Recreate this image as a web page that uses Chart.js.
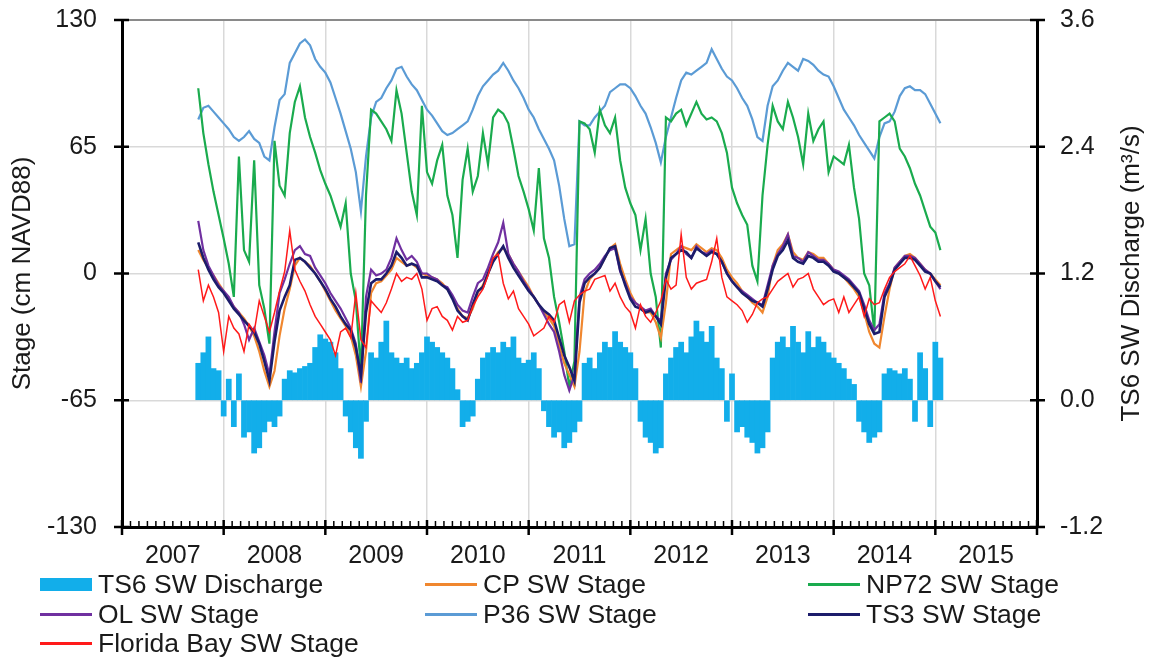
<!DOCTYPE html>
<html>
<head>
<meta charset="utf-8">
<script src="https://cdn.jsdelivr.net/npm/chart.js@4.4.1/dist/chart.umd.min.js"></script>
<style>
  html, body { margin: 0; padding: 0; background: #fff; }
  #wrap { position: relative; width: 1158px; height: 660px; }
  #legend { position: absolute; left: 0; top: 0; width: 1158px; height: 660px; pointer-events: none;
            font-family: 'Liberation Sans', Arial, sans-serif; font-size: 26.5px; color: #1a1a1a; }
  .item { position: absolute; height: 30px; display: flex; align-items: center; white-space: nowrap; }
  .swatch { display: inline-block; width: 52px; margin-right: 6px; }
</style>
</head>
<body>
<div id="wrap">
  <canvas id="chart" width="1158" height="660"></canvas>
  <div id="legend"></div>
</div>
<script>
// sampled every 0.05 yr starting at 2007.75 (20 values per year on each line)
const START = 2007.75;
const STEP = 0.05;

// TS6 discharge, m3/s (right axis)
const ts6Discharge = [
  0.35, 0.45, 0.60, 0.30, 0.28, -0.15, 0.20, -0.25, 0.25, -0.35, -0.30, -0.50, -0.45, -0.30, -0.20, -0.25, -0.15, 0.20, 0.28, 0.26,
  0.30, 0.32, 0.35, 0.50, 0.62, 0.58, 0.55, 0.45, 0.30, -0.15, -0.30, -0.45, -0.55, -0.20, 0.45, 0.40, 0.55, 0.75, 0.45, 0.40,
  0.35, 0.40, 0.30, 0.35, 0.45, 0.60, 0.55, 0.50, 0.45, 0.40, 0.30, 0.10, -0.25, -0.20, -0.15, 0.20, 0.40, 0.45, 0.50, 0.45,
  0.55, 0.50, 0.60, 0.40, 0.35, 0.38, 0.45, 0.30, -0.10, -0.25, -0.35, -0.30, -0.45, -0.40, -0.30, -0.20, 0.35, 0.40, 0.30, 0.45,
  0.55, 0.50, 0.65, 0.55, 0.50, 0.45, 0.30, -0.20, -0.35, -0.40, -0.50, -0.45, 0.25, 0.40, 0.50, 0.55, 0.45, 0.60, 0.75, 0.65,
  0.55, 0.70, 0.40, 0.30, -0.20, 0.25, -0.30, -0.25, -0.35, -0.40, -0.50, -0.45, -0.30, 0.40, 0.55, 0.60, 0.50, 0.70, 0.55, 0.45,
  0.65, 0.50, 0.60, 0.55, 0.45, 0.40, 0.35, 0.30, 0.20, 0.15, -0.20, -0.30, -0.40, -0.35, -0.30, 0.25, 0.30, 0.28, 0.25, 0.30,
  0.20, -0.20, 0.45, 0.30, -0.25, 0.55, 0.40
];

// stages, cm NAVD88 (left axis)
const cpStage = [
  12, 7, 3, -1, -5, -9, -13, -17, -20, -23, -27, -32, -40, -50, -58, -50, -32, -18, -8, 4,
  8, 6, 4, 0, -4, -9, -14, -19, -23, -27, -32, -42, -58, -40, -10, -5, -4, -1, 2, 8,
  6, 4, 5, 3, 0, -1, -2, -3, -5, -8, -12, -18, -22, -23, -18, -10, -6, 0, 7, 11,
  13, 10, 5, 1, -3, -7, -12, -16, -20, -23, -27, -37, -46, -52, -58, -40, -10, -3, 0, 3,
  8, 13, 15, 5, -3, -10, -15, -17, -20, -20, -25, -33, -15, 10, 12, 14, 13, 12, 15, 13,
  11, 13, 12, 8, 2, -2, -5, -9, -12, -15, -17, -20, -12, 4, 12, 15, 20, 11, 8, 7,
  11, 10, 8, 8, 5, 2, 0, -2, -5, -8, -12, -20, -30, -36, -38, -22, -8, 3, 6, 9,
  10, 8, 5, 2, 0, -3, -6
];

const np72Stage = [
  95, 72, 56, 42, 30, 18, 5, -12, 60, 12, 6, 58, -6, -18, -36, 68, 45, 40, 72, 88,
  96, 80, 70, 62, 53, 46, 40, 32, 24, 36, 0, -14, -50, 40, 84, 82, 78, 74, 68, 94,
  82, 62, 42, 30, 86, 52, 46, 58, 66, 40, 30, 8, 48, 64, 42, 50, 72, 56, 80, 84,
  82, 77, 64, 50, 42, 33, 22, 54, 18, 8, -12, -25, -40, -58, -45, 78, 77, 74, 62, 84,
  76, 72, 80, 58, 44, 36, 30, 12, 28, 0, -12, -38, 80, 78, 82, 84, 76, 82, 88, 82,
  79, 80, 78, 72, 62, 44, 36, 30, 25, 4, -4, 40, 66, 86, 78, 74, 88, 80, 70, 56,
  82, 68, 74, 78, 52, 60, 58, 56, 66, 44, 28, 0, -6, -30, 78, 80, 82, 78, 64, 60,
  54, 46, 40, 32, 24, 21, 12
];

const olStage = [
  27, 12, 4, -1, -6, -9, -12, -17, -20, -26, -34, -28, -35, -42, -52, -30, -10, -3, 5, 12,
  14, 10, 9, 3, -1, -5, -10, -14, -18, -23, -28, -36, -56, -12, 2, -1, 0, 2, 8, 18,
  12, 7, 9, 6, 0, 0, -2, -3, -6, -7, -11, -16, -19, -20, -12, -5, -3, 3, 10, 16,
  26, 10, 5, 1, -4, -8, -12, -16, -21, -26, -30, -40, -52, -60, -52, -12, -3, 0, 2, 5,
  9, 12, 13, 1, -5, -12, -15, -17, -19, -18, -22, -24, 0, 7, 10, 14, 10, 8, 14, 11,
  10, 12, 10, 6, 0, -4, -7, -9, -11, -13, -15, -16, -6, 4, 10, 14, 20, 9, 8, 6,
  11, 9, 7, 7, 5, 2, 1, -1, -3, -6, -9, -16, -24, -29, -26, -10, -5, 3, 6, 9,
  9, 8, 5, 2, 0, -4, -8
];

const p36Stage = [
  79, 85, 86, 83, 80, 77, 74, 70, 68, 70, 73, 69, 67, 60, 58, 75, 89, 92, 108, 113,
  118, 120, 117, 110, 106, 103, 98, 90, 82, 73, 64, 52, 32, 60, 80, 88, 90, 95, 99, 105,
  106, 101, 97, 94, 89, 84, 81, 77, 73, 71, 72, 74, 76, 78, 84, 91, 96, 99, 102, 104,
  108, 104, 99, 95, 90, 84, 80, 74, 69, 64, 58, 45, 28, 14, 15, 78, 76, 76, 80, 83,
  86, 93, 95, 97, 97, 95, 91, 86, 82, 75, 67, 57, 70, 80, 90, 99, 103, 102, 104, 106,
  108, 115, 110, 105, 101, 99, 95, 90, 86, 79, 70, 68, 86, 96, 99, 104, 108, 106, 104, 110,
  109, 107, 104, 102, 101, 96, 90, 84, 80, 76, 71, 67, 63, 59, 70, 77, 78, 83, 91, 95,
  96, 94, 94, 92, 87, 82, 77
];

const ts3Stage = [
  16, 8, 2, -3, -7, -10, -14, -18, -21, -24, -27, -30, -36, -45, -55, -35, -19, -12, -6, 7,
  8, 6, 3, 0, -4, -8, -13, -17, -22, -26, -29, -38, -52, -20, -5, -3, -3, 0, 4, 11,
  8, 4, 5, 4, -2, -2, -3, -4, -6, -8, -13, -19, -22, -24, -16, -9, -7, 0, 6, 10,
  14, 8, 3, -1, -5, -9, -12, -16, -19, -21, -24, -33, -42, -48, -55, -15, -5, -2, 0, 3,
  8, 13, 14, 2, -6, -13, -17, -18, -20, -19, -22, -26, -2, 8, 10, 12, 11, 8, 13, 11,
  9, 11, 10, 6, 0, -4, -7, -10, -12, -14, -15, -17, -8, 2, 9, 12, 17, 8, 6, 5,
  9, 8, 6, 6, 4, 1, 0, -2, -4, -7, -10, -18, -26, -31, -30, -12, -6, 2, 5, 8,
  8, 7, 4, 1, 0, -4, -7
];

const floridaBayStage = [
  2, -14, -6, -12, -20, -40, -22, -28, -31, -40, -26, -30, -14, -22, -30, -20, -9, 1, 22, 2,
  -4, -9, -16, -22, -26, -30, -34, -42, -30, -28, -33, -10, -34, -38, -14, -17, -20, -15, -8, 0,
  -4, -2, -3, 0, -8, -24, -18, -17, -22, -24, -29, -22, -25, -24, -17, -12, -8, -1, 8, 10,
  -5, -13, -9, -18, -22, -26, -32, -30, -28, -22, -25, -16, -14, -25, -14, -11, -9, -8, -3, -2,
  -1, -9, -5, -12, -17, -20, -28, -16, -22, -25, -20, -14, -3, -8, -6, 20, -2, -8, -5, -4,
  -3, 6, 18, -2, -12, -14, -16, -19, -25, -21, -15, -13, -12, -8, -4, -2, 0, -7, -3, -2,
  0, -8, -12, -16, -14, -13, -20, -12, -20, -16, -12, -22, -13, -16, -15, -8, -2, 1, 3, 5,
  9, 4, -1, -8, -2, -14, -22
];

const FONT = "'Liberation Sans', Arial, sans-serif";

function series(values) {
  return values.map((v, i) => ({ x: START + i * STEP, y: v }));
}

function line(label, values, color, order, width) {
  return {
    type: 'line', label, data: series(values), yAxisID: 'y',
    borderColor: color, backgroundColor: color, borderWidth: width || 2.2,
    pointRadius: 0, fill: false, tension: 0, order
  };
}

// value axes: no extra room for half-labels, the frame sits 20px below the top
function tightVertical(s, width) {
  s.width = width;
  s.paddingTop = 0;
  s.paddingBottom = 0;
}

// tick marks crossing the axes, month ticks on the time axis, and both axis titles
const axisMarks = {
  id: 'axisMarks',
  afterDraw(chart) {
    const { ctx, chartArea: a, scales } = chart;
    ctx.save();
    ctx.strokeStyle = '#000';
    for (let m = 0; m <= 108; m++) {
      const px = scales.x.getPixelForValue(2007 + m / 12);
      const major = m % 12 === 0;
      ctx.lineWidth = major ? 2.5 : 1.5;
      ctx.beginPath();
      ctx.moveTo(px, a.bottom - (major ? 7 : 6));
      ctx.lineTo(px, a.bottom + (major ? 8 : 0));
      ctx.stroke();
    }
    ctx.lineWidth = 2.5;
    scales.y.ticks.forEach(t => {
      const py = scales.y.getPixelForValue(t.value);
      ctx.beginPath(); ctx.moveTo(a.left - 8, py); ctx.lineTo(a.left + 7, py); ctx.stroke();
    });
    scales.y2.ticks.forEach(t => {
      const py = scales.y2.getPixelForValue(t.value);
      ctx.beginPath(); ctx.moveTo(a.right - 7, py); ctx.lineTo(a.right + 8, py); ctx.stroke();
    });

    ctx.fillStyle = '#1a1a1a';
    ctx.font = '26px ' + FONT;
    ctx.textAlign = 'center';
    ctx.textBaseline = 'middle';
    const mid = (a.top + a.bottom) / 2;
    ctx.save();
    ctx.translate(23, mid); ctx.rotate(-Math.PI / 2);
    ctx.fillText('Stage (cm NAVD88)', 0, 0);
    ctx.restore();
    ctx.save();
    ctx.translate(1132, mid); ctx.rotate(-Math.PI / 2);
    ctx.fillText('TS6 SW Discharge (m³/s)', 0, 0);
    ctx.restore();
    ctx.restore();
  }
};

const chart = new Chart(document.getElementById('chart'), {
  data: {
    datasets: [
      {
        type: 'bar', label: 'TS6 SW Discharge', data: series(ts6Discharge), yAxisID: 'y2',
        backgroundColor: '#12aeea', borderWidth: 0, barPercentage: 1, categoryPercentage: 1, order: 10
      },
      line('CP SW Stage', cpStage, '#f0872f', 7),
      line('NP72 SW Stage', np72Stage, '#1aab4e', 8),
      line('OL SW Stage', olStage, '#7030a0', 6),
      line('P36 SW Stage', p36Stage, '#5b9bd5', 9),
      line('TS3 SW Stage', ts3Stage, '#1c1c6b', 5, 2.6),
      line('Florida Bay SW Stage', floridaBayStage, '#ff1a1a', 4, 1.5)
    ]
  },
  options: {
    responsive: false,
    animation: false,
    layout: { padding: { top: 20, left: 0, right: 0, bottom: 0 } },
    plugins: { legend: { display: false }, tooltip: { enabled: false } },
    scales: {
      x: {
        type: 'linear', min: 2007, max: 2016, offset: false,
        grid: { color: '#d9d9d9', lineWidth: 1.5, drawTicks: false, offset: false },
        border: { color: '#000', width: 3 },
        ticks: {
          stepSize: 1, autoSkip: false, maxRotation: 0, labelOffset: 50.8, padding: 14,
          color: '#1a1a1a', font: { family: FONT, size: 25 },
          callback: v => (v < 2016 ? String(v) : '')
        },
        afterFit: s => { s.height = 133; s.paddingLeft = 0; s.paddingRight = 0; }
      },
      y: {
        position: 'left', min: -130, max: 130,
        grid: {
          drawTicks: false,
          color: c => (c.tick && c.tick.value === 130 ? '#8a8a8a' : '#d9d9d9'),
          lineWidth: c => (c.tick && c.tick.value === 130 ? 2 : 1.5)
        },
        border: { color: '#000', width: 3 },
        ticks: { stepSize: 65, padding: 25, color: '#1a1a1a', font: { family: FONT, size: 25 } },
        afterFit: s => tightVertical(s, 122)
      },
      y2: {
        position: 'right', min: -1.2, max: 3.6,
        grid: { drawOnChartArea: false, drawTicks: false },
        border: { color: '#000', width: 3 },
        ticks: {
          stepSize: 1.2, padding: 23, color: '#1a1a1a', font: { family: FONT, size: 25 },
          callback: v => Number(v).toFixed(1)
        },
        afterFit: s => tightVertical(s, 121)
      }
    }
  },
  plugins: [axisMarks]
});

// legend laid out in three columns under the axis
const cells = [[40, 584], [425, 584], [808, 584], [40, 614], [425, 614], [808, 614], [40, 643]];
const legend = document.getElementById('legend');
chart.data.datasets.forEach((ds, i) => {
  const item = document.createElement('div');
  item.className = 'item';
  item.style.left = cells[i][0] + 'px';
  item.style.top = (cells[i][1] - 15) + 'px';
  const sw = document.createElement('span');
  sw.className = 'swatch';
  sw.style.height = ds.type === 'bar' ? '13px' : '3px';
  sw.style.background = ds.type === 'bar' ? ds.backgroundColor : ds.borderColor;
  item.appendChild(sw);
  item.appendChild(document.createTextNode(ds.label));
  legend.appendChild(item);
});
</script>
</body>
</html>
